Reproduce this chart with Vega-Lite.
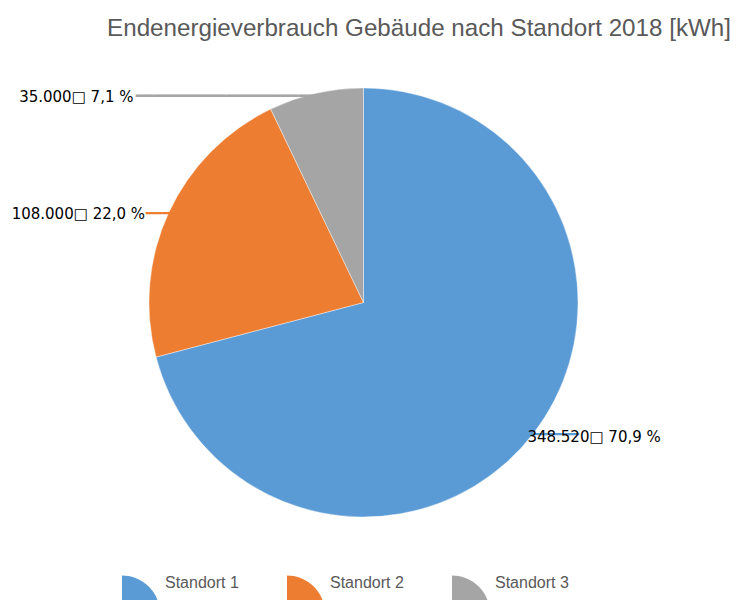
{
  "$schema": "https://vega.github.io/schema/vega-lite/v6.json",
  "width": 727,
  "height": 605,
  "autosize": "none",
  "padding": {"left": 0, "top": 0, "right": 10, "bottom": 0},
  "background": "white",
  "title": {
    "text": "Endenergieverbrauch Gebäude nach Standort 2018 [kWh]",
    "anchor": "end",
    "frame": "group",
    "orient": "top",
    "offset": -35,
    "baseline": "alphabetic",
    "font": "Liberation Sans",
    "fontSize": 24.2,
    "fontWeight": "normal",
    "color": "#595959",
    "dx": 4,
    "dy": 25
  },
  "data": {
    "values": [
      {"name": "Standort 1", "value": 348520, "label": "348.520□ 70,9 %"},
      {"name": "Standort 2", "value": 108000, "label": "108.000□ 22,0 %"},
      {"name": "Standort 3", "value": 35000, "label": "35.000□ 7,1 %"}
    ]
  },
  "encoding": {
    "theta": {"field": "value", "type": "quantitative", "stack": true},
    "order": {"field": "name", "type": "ordinal"}
  },
  "layer": [
    {
      "mark": {"type": "arc", "outerRadius": 214.5, "stroke": "white", "strokeWidth": 0.4},
      "encoding": {
        "color": {
          "field": "name",
          "type": "nominal",
          "scale": {"domain": ["Standort 1", "Standort 2", "Standort 3"], "range": ["#5B9BD5", "#ED7D31", "#A5A5A5"]},
          "legend": {
            "orient": "none",
            "legendX": 122,
            "legendY": 564,
            "direction": "horizontal",
            "title": null,
            "symbolType": "M-1,-0.42A2,2 0 0 1 1,1.58L-1,1.58Z",
            "symbolSize": 1444,
            "symbolStrokeWidth": 0,
            "symbolOpacity": 1,
            "labelFont": "Liberation Sans",
            "labelFontSize": 16,
            "labelColor": "#595959",
            "labelOffset": 5,
            "columnPadding": 48,
            "padding": 0
          }
        }
      }
    },
    {
      "mark": {"type": "text", "radius": 212, "align": "right", "baseline": "middle", "font": "DejaVu Sans", "fontSize": 15, "dx": 0, "dy": 0},
      "encoding": {
        "color": {"field": "name", "type": "nominal"},
        "text": {"condition": {"test": "datum.name === 'Standort 3'", "value": "━━━━━━━━━━━━━━━━━━━━"}, "value": ""}
      }
    },
    {
      "mark": {"type": "text", "radius": 212, "align": "right", "baseline": "middle", "font": "DejaVu Sans", "fontSize": 14, "dx": 0, "dy": 0},
      "encoding": {
        "color": {"field": "name", "type": "nominal"},
        "text": {"condition": {"test": "datum.name === 'Standort 2'", "value": "━━━"}, "value": ""}
      }
    },
    {
      "mark": {"type": "text", "radius": 212, "align": "left", "baseline": "middle", "font": "DejaVu Sans", "fontSize": 14, "dx": -3, "dy": 3},
      "encoding": {
        "color": {"field": "name", "type": "nominal"},
        "text": {"condition": {"test": "datum.name === 'Standort 1'", "value": "━━━━━━"}, "value": ""}
      }
    },
    {
      "mark": {"type": "text", "radius": 212, "align": "right", "baseline": "middle", "font": "DejaVu Sans", "fontSize": 15, "fill": "black", "dx": -183, "dy": 1},
      "encoding": {
        "text": {"condition": {"test": "datum.name === 'Standort 3'", "field": "label"}, "value": ""}
      }
    },
    {
      "mark": {"type": "text", "radius": 212, "align": "right", "baseline": "middle", "font": "DejaVu Sans", "fontSize": 15, "fill": "black", "dx": -26, "dy": 0},
      "encoding": {
        "text": {"condition": {"test": "datum.name === 'Standort 2'", "field": "label"}, "value": ""}
      }
    },
    {
      "mark": {"type": "text", "radius": 212, "align": "left", "baseline": "middle", "font": "DejaVu Sans", "fontSize": 15, "fill": "black", "dx": -4, "dy": 5},
      "encoding": {
        "text": {"condition": {"test": "datum.name === 'Standort 1'", "field": "label"}, "value": ""}
      }
    }
  ],
  "config": {
    "view": {"stroke": null}
  }
}
